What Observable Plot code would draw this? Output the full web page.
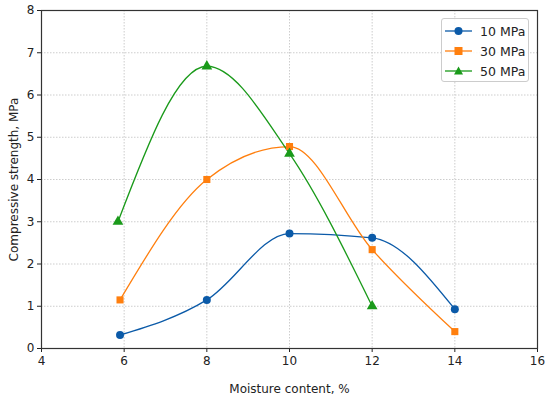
<!DOCTYPE html>
<html><head><meta charset="utf-8">
<script src="https://cdn.jsdelivr.net/npm/d3@7"></script>
<script src="https://cdn.jsdelivr.net/npm/@observablehq/plot@0.6"></script>
<style>
body{margin:0;background:#fff;font-family:"DejaVu Sans",sans-serif;}
#wrap{position:relative;width:550px;height:401px;}
.legend{position:absolute;left:441px;top:18px;width:88px;height:64px;border:1px solid #cccccc;border-radius:3px;background:rgba(255,255,255,0.85);box-sizing:border-box;font-size:12.5px;color:#222;}
.entry{position:absolute;left:0;height:16px;display:flex;align-items:center;}
.entry svg{display:block;margin-left:3px;}
.entry span{margin-left:8px;}
</style></head>
<body><div id="wrap"></div>
<script>
const seriesNames = ["10 MPa", "30 MPa", "50 MPa"];
const moisture10 = [5.9, 8, 10, 12, 14];
const strength10 = [0.32, 1.15, 2.72, 2.62, 0.93];
const moisture30 = [5.9, 8, 10, 12, 14];
const strength30 = [1.15, 4.0, 4.78, 2.34, 0.4];
const moisture50 = [5.85, 8, 10, 12];
const strength50 = [3.0, 6.68, 4.61, 1.0];
const xTicks = [4, 6, 8, 10, 12, 14, 16];
const yTicks = [0, 1, 2, 3, 4, 5, 6, 7, 8];
const colors = ["#0b5aa8", "#ff7f0e", "#1a9a1a"];
const symbols = ["circle", "square", "triangle"];

const moist = [moisture10, moisture30, moisture50];
const stren = [strength10, strength30, strength50];
const rows = [];
seriesNames.forEach((s, i) => moist[i].forEach((m, j) => rows.push({series: s, moisture: m, strength: stren[i][j]})));

const chart = Plot.plot({
  width: 550, height: 401,
  marginLeft: 41, marginRight: 13, marginTop: 10, marginBottom: 53,
  style: {fontFamily: "DejaVu Sans", fontSize: "12px", background: "#fff", color: "#222"},
  x: {domain: [4, 16]},
  y: {domain: [0, 8]},
  color: {domain: seriesNames, range: colors},
  symbol: {domain: seriesNames, range: symbols},
  marks: [
    Plot.gridX(xTicks.slice(1, -1), {stroke: "#c8c8c8", strokeOpacity: 0.9, strokeDasharray: "1.5,1.5"}),
    Plot.gridY(yTicks.slice(1, -1), {stroke: "#c8c8c8", strokeOpacity: 0.9, strokeDasharray: "1.5,1.5"}),
    Plot.axisX({ticks: xTicks, tickSize: 4, tickPadding: 4, label: "Moisture content, %", labelAnchor: "center", labelArrow: "none", labelOffset: 44, fontSize: 12}),
    Plot.axisY({ticks: yTicks, tickSize: 4, tickPadding: 3, label: "Compressive strength, MPa", labelAnchor: "center", labelArrow: "none", labelOffset: 32, fontSize: 12}),
    Plot.line(rows, {x: "moisture", y: "strength", z: "series", stroke: "series", curve: "monotone-x", strokeWidth: 1.3}),
    Plot.dot(rows, {x: "moisture", y: "strength", fill: "series", symbol: "series", r: 4, stroke: "none"}),
    Plot.frame({stroke: "#333", strokeWidth: 1.2})
  ]
});
const wrap = document.getElementById("wrap");
wrap.appendChild(chart);

const legend = document.createElement("div");
legend.className = "legend";
const shapes = {
  circle: '<circle cx="13.5" cy="6" r="4"/>',
  square: '<rect x="9.5" y="2" width="8" height="8"/>',
  triangle: '<path d="M13.5,1.5 L18,9.5 L9,9.5 Z"/>'
};
seriesNames.forEach((s, i) => {
  const e = document.createElement("div");
  e.className = "entry";
  e.style.top = (4 + i * 20) + "px";
  e.innerHTML = `<svg width="27" height="12"><line x1="0" y1="6" x2="27" y2="6" stroke="${colors[i]}" stroke-width="1.3"/><g fill="${colors[i]}">${shapes[symbols[i]]}</g></svg><span>${s}</span>`;
  legend.appendChild(e);
});
wrap.appendChild(legend);
</script></body></html>
